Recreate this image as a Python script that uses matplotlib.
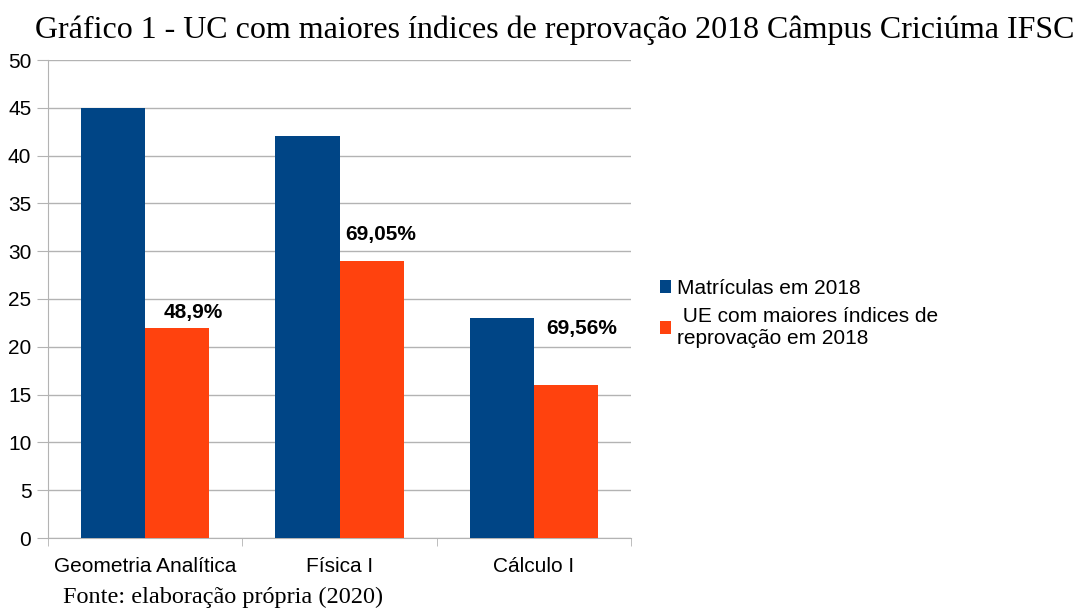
import matplotlib.pyplot as plt
import numpy as np

categorias = ['Geometria Analítica', 'Física I', 'Cálculo I']
matriculas = [45, 42, 23]
reprovacoes = [22, 29, 16]
rotulos = ['48,9%', '69,05%', '69,56%']
# deslocamento (x, y) de cada rótulo em relação ao topo da barra
desloc = [(0.08, 1.6), (0.045, 2.7), (0.08, 5.9)]

azul = '#004586'
laranja = '#ff420e'

plt.rcParams['font.family'] = ['Liberation Sans', 'DejaVu Sans']

fig = plt.figure(figsize=(10.81, 6.16), dpi=100)
ax = fig.add_axes([48/1081, 1-538/616, 583/1081, 478/616])

x = np.arange(len(categorias))
w = 0.33
ax.bar(x - w/2, matriculas, w, color=azul, label='Matrículas em 2018', zorder=3)
ax.bar(x + w/2, reprovacoes, w, color=laranja,
       label=' UE com maiores índices de\nreprovação em 2018', zorder=3)

for i, txt in enumerate(rotulos):
    ax.text(x[i] + w/2 + desloc[i][0], reprovacoes[i] + desloc[i][1], txt,
            ha='center', va='center', fontsize=15, fontweight='bold')

ax.set_xlim(-0.5, 2.5)
ax.set_ylim(0, 50)
ax.set_yticks(range(0, 51, 5))
ax.set_xticks(x)
ax.set_xticklabels(categorias, fontsize=15)
ax.set_xticks([-0.5, 0.5, 1.5, 2.5], minor=True)
ax.tick_params(axis='x', which='major', length=0, pad=14)
ax.tick_params(axis='x', which='minor', length=6, color='#b3b3b3')
ax.tick_params(axis='y', length=8, color='#b3b3b3', labelsize=15, pad=4)
ax.yaxis.grid(True, color='#b3b3b3', linewidth=1, zorder=0)
for s in ['top', 'right']:
    ax.spines[s].set_visible(False)
for s in ['left', 'bottom']:
    ax.spines[s].set_color('#b3b3b3')

fig.legend(loc='upper left', bbox_to_anchor=(641/1081, 1-260/616), frameon=False,
           fontsize=15, handlelength=0.55, handleheight=0.55, handletextpad=0.3,
           labelspacing=0.45)

fig.text(555/1081, 1-30/616,
         'Gráfico 1 - UC com maiores índices de reprovação 2018 Câmpus Criciúma IFSC',
         ha='center', va='center', fontsize=23, family='Liberation Serif')
fig.text(63/1081, 1-597/616, 'Fonte: elaboração própria (2020)',
         ha='left', va='center', fontsize=17.5, family='Liberation Serif')

fig.savefig('out.png', dpi=100)
